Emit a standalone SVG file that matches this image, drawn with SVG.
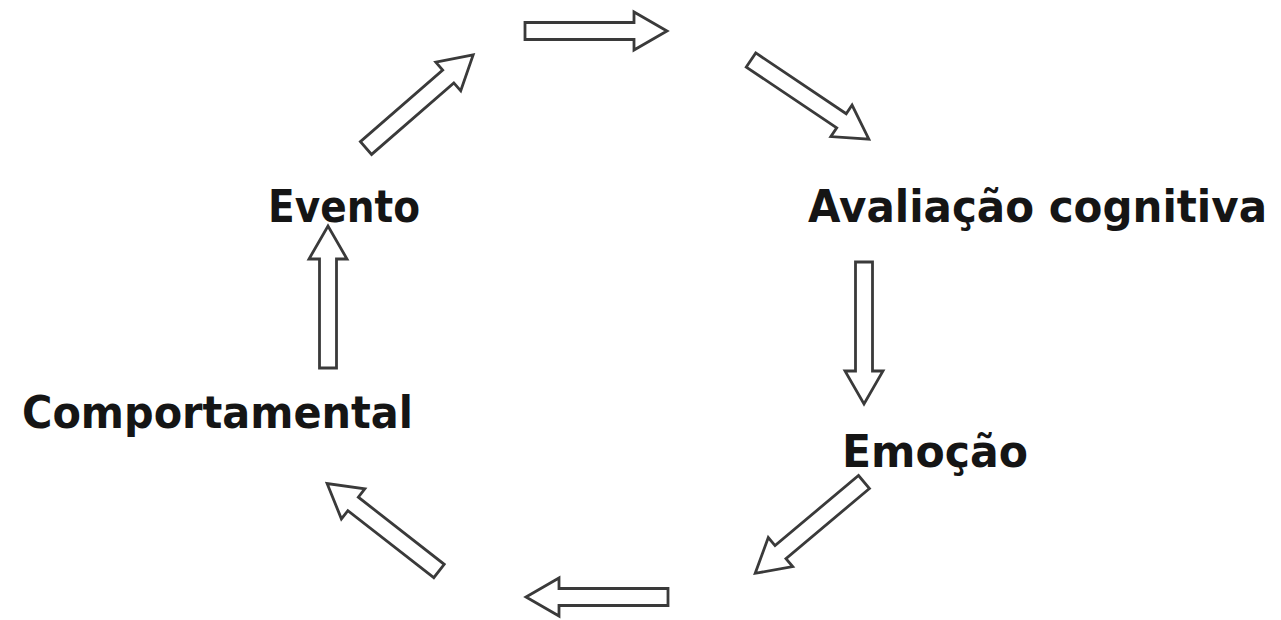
<svg xmlns="http://www.w3.org/2000/svg" width="1281" height="620" viewBox="0 0 1281 620">
<style>
.lbl{font-family:"DejaVu Sans","Liberation Sans",sans-serif;font-weight:bold;font-size:44px;fill:#151515}
.arr{fill:#fff;stroke:#3a3a3a;stroke-width:2.8;stroke-linejoin:miter}
</style>
<defs>
<path id="ar" class="arr" d="M0,-8.5 L109,-8.5 L109,-19 L142,0 L109,19 L109,8.5 L0,8.5 Z"/>
</defs>
<rect width="1281" height="620" fill="#fff"/>
<g id="connectors">
<use href="#ar" transform="translate(525,31)"/>
<use href="#ar" transform="translate(751,60) rotate(33.9)"/>
<use href="#ar" transform="translate(864,262) rotate(90)"/>
<use href="#ar" transform="translate(864,482) rotate(140)"/>
<use href="#ar" transform="translate(668,597) rotate(180)"/>
<use href="#ar" transform="translate(439,571) rotate(-142)"/>
<use href="#ar" transform="translate(328,368) rotate(-90)"/>
<use href="#ar" transform="translate(366,148) rotate(-41)"/>
</g>
<g id="evento"><text class="lbl" x="268" y="222" textLength="152" lengthAdjust="spacingAndGlyphs">Evento</text></g>
<g id="avaliacao"><text class="lbl" transform="translate(808,222) scale(1,1.16)" x="0" y="0" style="font-size:38px" textLength="459" lengthAdjust="spacingAndGlyphs">Avaliação cognitiva</text></g>
<g id="emocao"><text class="lbl" x="842" y="467" textLength="186" lengthAdjust="spacingAndGlyphs">Emoção</text></g>
<g id="comportamental"><text class="lbl" x="22" y="428" textLength="391" lengthAdjust="spacingAndGlyphs">Comportamental</text></g>
</svg>
